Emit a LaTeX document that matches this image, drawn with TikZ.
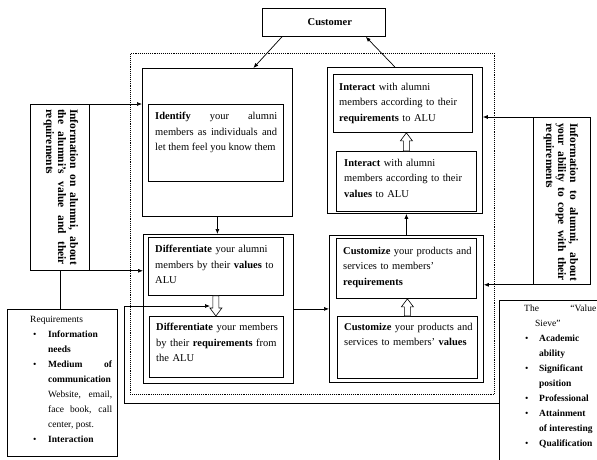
\documentclass[tikz,border=0pt]{standalone}
\usepackage{fontspec}
\setmainfont{Liberation Serif}
\usetikzlibrary{calc,arrows.meta}
\hyphenpenalty=10000
\exhyphenpenalty=10000
\newlength\bulw
\setlength\bulw{18pt}
\newcommand\bitem[2][3pt]{\par\hangindent=\bulw\hangafter=1\noindent\hbox to \bulw{\hspace{#1}\textbullet\hfil}#2}
\newcommand\hollowarr[2]{%
  \draw[hollow] let \p1=(#1), \p2=(#1|-#2), \p3=($(#1|-#2)!8pt!(#1)$) in
  (\x1-3pt,\y1) -- (\x1+3pt,\y1) -- (\x1+3pt,\y3) -- (\x1+6pt,\y3) -- (\x2,\y2) -- (\x1-6pt,\y3) -- (\x1-3pt,\y3) -- cycle;}
\begin{document}
\begin{tikzpicture}[x=1pt,y=-1pt,
  frame/.style={draw, line width=0.8pt, inner sep=0pt, anchor=north west},
  txt/.style={inner sep=0pt, anchor=north west, align=left, text width=150pt, font=\fontsize{10.5}{15.5}\selectfont},
  side/.style={inner sep=0pt, rotate=-90, align=justify, font=\fontsize{11.5}{12}\selectfont\bfseries},
  list/.style={inner sep=0pt, anchor=north west, align=justify, font=\fontsize{9.5}{15}\selectfont},
  conn/.style={line width=0.7pt, -{Latex[length=5pt,width=4pt]}},
  plain/.style={line width=0.7pt},
  hollow/.style={draw, fill=white, line width=0.6pt}
]
\useasboundingbox (0,0) rectangle (597,459);

% dotted enclosure
\node[draw, densely dotted, line width=0.9pt, minimum width=364, minimum height=341, anchor=north west, inner sep=0pt] (dotbox) at (130,53) {};

% customer
\node[frame, minimum width=123, minimum height=28, font=\fontsize{10.5}{12}\selectfont\bfseries] (cust) at (262,8) {\hspace{12pt}Customer};

% outer frames
\node[frame, minimum width=150, minimum height=148] (tl) at (142,68) {};
\node[frame, minimum width=150, minimum height=149] (bl) at (143,234) {};
\node[frame, minimum width=155, minimum height=146] (tr) at (327,67) {};
\node[frame, minimum width=154, minimum height=147] (br) at (329,235) {};

% inner boxes
\node[frame, minimum width=135, minimum height=77] (id) at (148,104) {};
\node[txt, align=justify, text width=122pt] (idt) at (155,112) {\textbf{Identify} your alumni\linebreak members as individuals and\linebreak let them feel you know them};

\node[frame, minimum width=135, minimum height=58] (dv) at (148,237) {};
\node[txt] (dvt) at (155,245) {\textbf{Differentiate} your alumni\\ members by their \textbf{values} to\\ ALU};

\node[frame, minimum width=134, minimum height=61] (dr) at (149,316) {};
\node[txt] (drt) at (156,323) {\textbf{Differentiate} your members\\ by their \textbf{requirements} from\\ the ALU};

\node[frame, minimum width=139, minimum height=58] (ir) at (333,74) {};
\node[txt] (irt) at (339,83) {\textbf{Interact} with alumni\\ members according to their\\ \textbf{requirements} to ALU};

\node[frame, minimum width=140, minimum height=60] (iv) at (336,151) {};
\node[txt] (ivt) at (344,159) {\textbf{Interact} with alumni\\ members according to their\\ \textbf{values} to ALU};

\node[frame, minimum width=140, minimum height=60] (cr) at (336,238) {};
\node[txt] (crt) at (343,247) {\textbf{Customize} your products and\\ services to members'\\ \textbf{requirements}};

\node[frame, minimum width=140, minimum height=62] (cv) at (337,316) {};
\node[txt] (cvt) at (344,323) {\textbf{Customize} your products and\\ services to members' \textbf{values}};

% hollow arrows
\hollowarr{dv.south}{dr.north}
\hollowarr{cv.north}{cr.south}
\hollowarr{iv.north}{ir.south}

% side information boxes
\node[frame, minimum width=59, minimum height=166] (linfo) at (30,104) {};
\node[side, text width=156pt] (linfot) at (61,187) {Information on alumni, about\linebreak the alumni's value and their\linebreak requirements};

\node[frame, minimum width=57, minimum height=167] (rinfo) at (533,117) {};
\node[side, text width=158pt] (rinfot) at (561,202) {Information to alumni, about\linebreak your ability to cope with their\linebreak requirements};

% requirements list
\node[frame, minimum width=110, minimum height=147] (req) at (7,309) {};
\node[list, text width=82pt] (reqt) at (30,316) {Requirements
\bitem{\textbf{Information}\newline\textbf{needs}}
\bitem{\textbf{Medium of}\linebreak\textbf{communication} Website, email,\linebreak face book, call\linebreak center, post.}
\bitem{\textbf{Interaction}}};

% value sieve list
\node[frame, minimum width=110, minimum height=170] (vs) at (499,300) {};
\node[list, text width=72pt] (vst) at (524,305) {\setlength\bulw{15pt}The \hfill ``Value\newline\hspace*{11pt}Sieve''
\bitem[1pt]{\textbf{Academic}\newline\textbf{ability}}
\bitem[1pt]{\textbf{Significant}\newline\textbf{position}}
\bitem[1pt]{\textbf{Professional}}
\bitem[1pt]{\textbf{Attainment}\newline\textbf{of~interesting}}
\bitem[1pt]{\textbf{Qualification}}};

% connectors
\draw[conn] ($(cust.south west)+(20,0)$) -- ($(tl.north)+(36,0)$);
\draw[conn] ($(tr.north)+(-10,0)$) -- ($(cust.south east)+(-20,0)$);
\draw[conn] (tl.south) -- (tl.south |- bl.north);
\draw[conn] (bl.east) -- (bl.east -| br.west);
\draw[conn] (br.north) -- (br.north |- tr.south);
\draw[conn] (linfo.north east) -- (linfo.north east -| tl.west);
\draw[conn] (linfo.south east) -- (linfo.south east -| bl.west);
\draw[plain] (linfo.south) -- (linfo.south |- req.north);
\draw[conn] (rinfo.north west) -- (rinfo.north west -| tr.east);
\draw[conn] (rinfo.south west) -- (rinfo.south west -| br.east);
\coordinate (vsout) at ($(vs.north west)+(0,103)$);
\coordinate (dvin) at (210,306);
\coordinate (cornA) at (124,403);
\coordinate (cornB) at (124,306);
\draw[conn] (vsout) -- (cornA) -- (cornB) -- (dvin);
\end{tikzpicture}
\end{document}
